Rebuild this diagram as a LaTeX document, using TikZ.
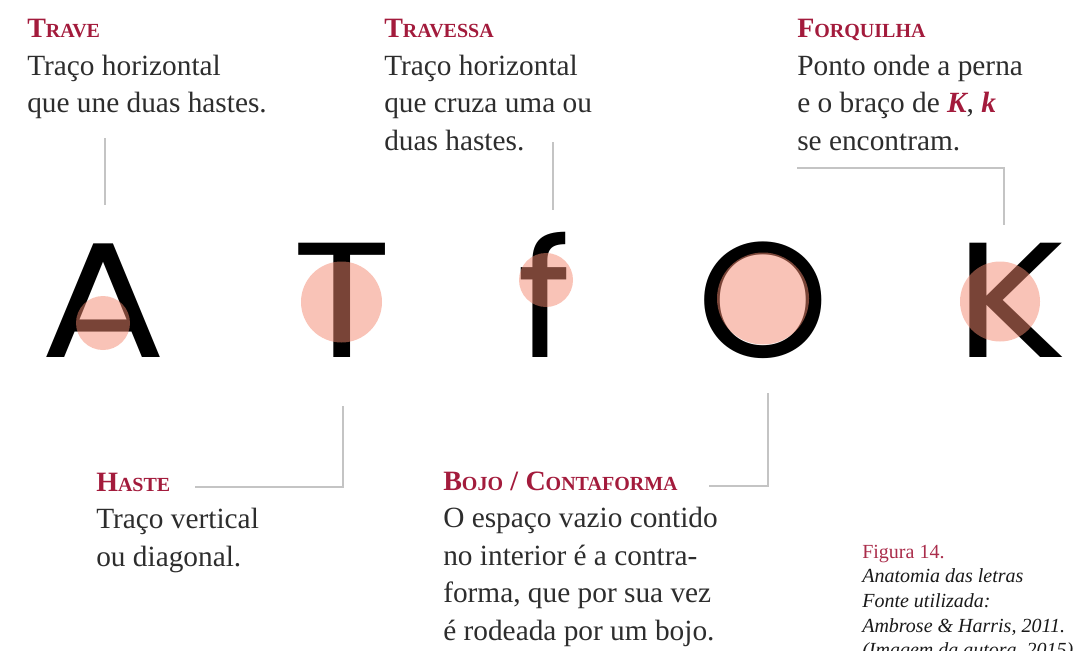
\documentclass[tikz,border=0pt]{standalone}
\usepackage{fontspec}
\setmainfont{Liberation Serif}
\newfontfamily\geofont{Poppins}
\definecolor{hdred}{RGB}{163,27,60}
\definecolor{capred}{RGB}{170,45,75}
\definecolor{bodygray}{RGB}{45,45,45}
\definecolor{capblack}{RGB}{25,25,25}
\definecolor{linegray}{RGB}{196,196,196}
\definecolor{blob}{RGB}{243,136,111}
\newcommand\hd[2]{{\color{hdred}\bfseries\fontsize{21}{28.1}\selectfont #1\fontsize{15}{28.1}\selectfont #2}}
\newcommand\redbi[1]{{\color{hdred}\bfseries\itshape #1}}
\begin{document}
\begin{tikzpicture}[x=0.75pt,y=-0.75pt,
  lbl/.style={anchor=base west, inner sep=0pt, align=left, text=bodygray, font=\fontsize{22}{28.1}\selectfont},
  capt/.style={anchor=base west, inner sep=0pt, align=left, text=capblack, font=\fontsize{15}{18.5}\selectfont},
  glyph/.style={anchor=base, inner sep=0pt, font=\geofont\fontsize{123}{123}\selectfont, transform shape},
  blobfill/.style={fill=blob, fill opacity=0.5},
  conn/.style={draw=linegray, line width=1.6pt}
]
\useasboundingbox (0,0) rectangle (1087,650);
\clip (0,0) rectangle (1087,650);

% big letters
\node[glyph, xscale=1.14] (lA) at (103.5,357.5) {A};
\node[glyph, xscale=1.12] (lT) at (342,357.5) {T};
\node[glyph] (lf) at (544,357.5) {f};
\node[glyph, xscale=1.02] (lO) at (763,357.5) {O};
\node[glyph, xscale=1.14] (lK) at (1011,357.5) {K};

% highlight circles
\fill[blobfill] (103,323) circle (27);
\fill[blobfill] (341.5,302) circle (40.5);
\fill[blobfill] (546,280) circle (27);
\fill[blobfill] (763,298.5) circle (46);
\fill[blobfill] (1000,301.5) circle (40);

% labels (anchored at the baseline of the last line)
\node[lbl] (trave) at (27,112.5) {\hd{T}{RAVE}\\Traço horizontal\\que une duas hastes.};
\node[lbl] (travessa) at (384,150) {\hd{T}{RAVESSA}\\Traço horizontal\\que cruza uma ou\\duas hastes.};
\node[lbl] (forquilha) at (797,150) {\hd{F}{ORQUILHA}\\Ponto onde a perna\\e o braço de \redbi{K}, \redbi{k}\\se encontram.};
\node[lbl] (haste) at (96,566) {\hd{H}{ASTE}\\Traço vertical\\ou diagonal.};
\node[lbl] (bojo) at (443,640) {\hd{B}{OJO} \hd{/}{} \hd{C}{ONTAFORMA}\\O espaço vazio contido\\no interior é a contra-\\forma, que por sua vez\\é rodeada por um bojo.};
\node[capt] (caption) at (862,656.8) {{\color{capred}Figura 14.}\\\textit{Anatomia das letras}\\\textit{Fonte utilizada:}\\\textit{Ambrose \& Harris, 2011.}\\\textit{(Imagem da autora, 2015)}};

% connectors
\coordinate (trA) at (105,138); \coordinate (trB) at (105,205);
\coordinate (tsA) at (553,142); \coordinate (tsB) at (553,210);
\coordinate (fqA) at (797,168); \coordinate (fqB) at (1004,225);
\coordinate (hsA) at (195,487); \coordinate (hsB) at (343,406);
\coordinate (bjA) at (709,486); \coordinate (bjB) at (768,393);
\draw[conn] (trA) -- (trB);
\draw[conn] (tsA) -- (tsB);
\draw[conn] (fqA) -| (fqB);
\draw[conn] (hsA) -| (hsB);
\draw[conn] (bjA) -| (bjB);
\end{tikzpicture}
\end{document}
